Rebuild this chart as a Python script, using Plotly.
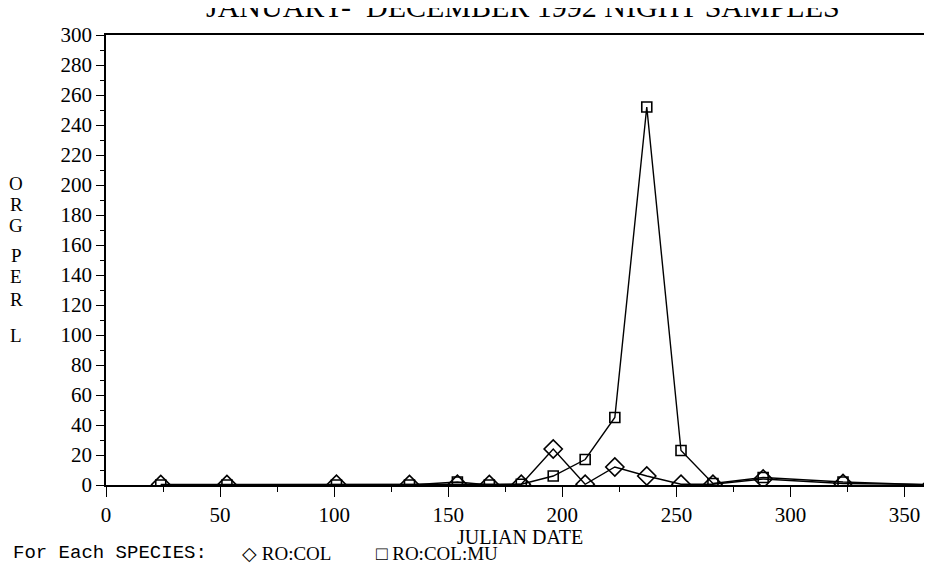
import plotly.graph_objects as go

# Julian dates of sampling
julian_dates = [24, 53, 101, 133, 154, 168, 182, 196, 210, 223, 237, 252, 266, 288, 323, 362]
# Organisms per litre
ro_col = [0.3, 0.3, 0.5, 0.3, 0.5, 0.3, 0.5, 24, 0.5, 12, 6, 0.5, 0.5, 4, 1, 0.3]
ro_col_mu = [0, 0, 0, 0, 2, 0, 0.5, 6, 17, 45, 252, 23, 1, 5, 2, 0]

x_ticks = [0, 50, 100, 150, 200, 250, 300, 350]
y_ticks = list(range(0, 301, 20))
ylabel_letters = ["O", "R", "G", "P", "E", "R", "L"]
ylabel_pos = [201, 187, 173, 153, 139, 124, 100]

SERIF = "Liberation Serif"
MONO = "Liberation Mono"

# the page body has an 8px margin, so figure pixel = screen pixel - 8
OFF = 8
W, H = 932 - OFF, 573 - 2 * OFF
L, T = 106 - OFF, 35 - OFF
R = 0
B = H - (485 - OFF)
pw, ph = W - L - R, H - T - B


def sx(px):  # screen x -> paper
    return (px - OFF - L) / pw


def sy(py):  # screen y -> paper
    return 1 - (py - OFF - T) / ph


fig = go.Figure()
fig.add_trace(go.Scatter(
    x=julian_dates, y=ro_col, mode="lines+markers", name="RO:COL",
    line=dict(color="black", width=1.4),
    marker=dict(symbol="diamond-open", size=14, color="black", line=dict(width=1.6)),
    showlegend=False))
fig.add_trace(go.Scatter(
    x=julian_dates, y=ro_col_mu, mode="lines+markers", name="RO:COL:MU",
    line=dict(color="black", width=1.4),
    marker=dict(symbol="square-open", size=10, color="black", line=dict(width=1.6)),
    showlegend=False))

annotations = []
for t, yv in zip(ylabel_letters, ylabel_pos):
    annotations.append(dict(text=t, x=sx(16), xref="paper", y=yv, yref="y",
                            xanchor="center", yanchor="middle",
                            showarrow=False, font=dict(family=SERIF, size=19, color="black")))
annotations.append(dict(text="JANUARY-  DECEMBER 1992 NIGHT SAMPLES", x=sx(523), xref="paper",
                        y=sy(25), yref="paper", xanchor="center", yanchor="bottom", showarrow=False,
                        font=dict(family=SERIF, size=30, color="black")))
annotations.append(dict(text="JULIAN DATE", x=sx(520), xref="paper", y=sy(537), yref="paper",
                        xanchor="center", yanchor="middle",
                        showarrow=False, font=dict(family=SERIF, size=20, color="black")))
annotations.append(dict(text="For Each SPECIES:", x=sx(11), xref="paper", y=sy(553), yref="paper",
                        xanchor="left", yanchor="middle",
                        showarrow=False, font=dict(family=MONO, size=19, color="black")))
annotations.append(dict(text="◇ RO:COL", x=sx(240), xref="paper", y=sy(553), yref="paper",
                        xanchor="left", yanchor="middle",
                        showarrow=False, font=dict(family=SERIF, size=19, color="black")))
annotations.append(dict(text="□ RO:COL:MU", x=sx(374), xref="paper", y=sy(553), yref="paper",
                        xanchor="left", yanchor="middle",
                        showarrow=False, font=dict(family=SERIF, size=19, color="black")))

fig.update_layout(
    width=W, height=H,
    margin=dict(l=L, r=R, t=T, b=B, autoexpand=False),
    paper_bgcolor="white", plot_bgcolor="white",
    font=dict(family=SERIF, size=21, color="black"),
    annotations=annotations,
    xaxis=dict(range=[0, 362], tickvals=x_ticks, ticks="outside", ticklen=10, tickwidth=1.3,
               tickcolor="black", showline=True, linecolor="black", linewidth=1.5,
               mirror=True, showgrid=False, zeroline=False, automargin=False,
               tickfont=dict(family=SERIF, size=21),
               minor=dict(dtick=25, tick0=0, ticks="outside", ticklen=5, tickcolor="black", tickwidth=1.2)),
    yaxis=dict(range=[0, 300], tickvals=y_ticks, ticks="outside", ticklen=8, tickwidth=1.3,
               tickcolor="black", showline=True, linecolor="black", linewidth=1.5,
               showgrid=False, zeroline=False, automargin=False,
               tickfont=dict(family=SERIF, size=21),
               minor=dict(dtick=10, tick0=0, ticks="outside", ticklen=4, tickcolor="black", tickwidth=1.2)),
)

fig.write_html("out.html")
